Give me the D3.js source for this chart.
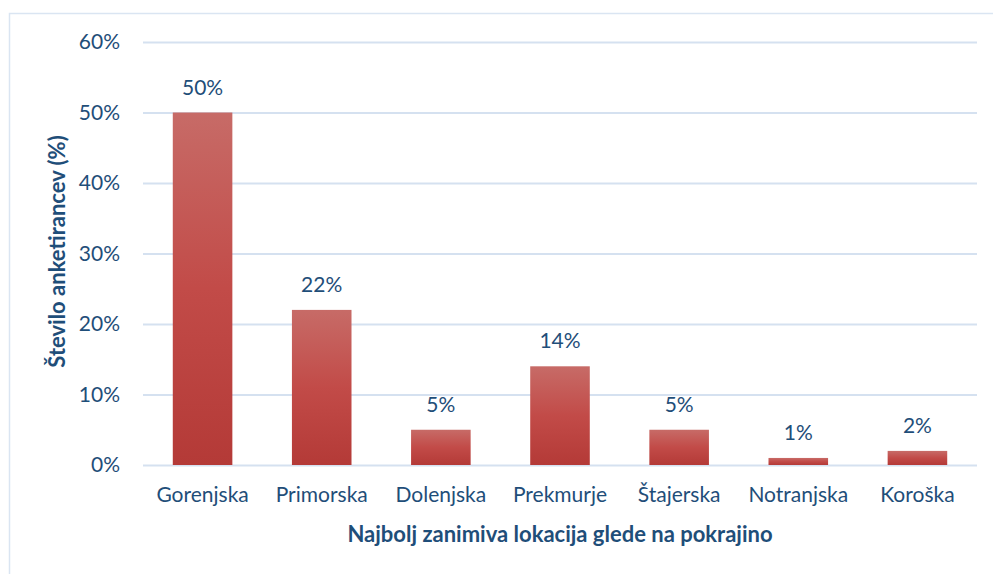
<!DOCTYPE html>
<html>
<head>
<meta charset="utf-8">
<script src="https://cdn.jsdelivr.net/npm/d3@7"></script>
<style>
  body { margin: 0; background: #ffffff; }
  svg text { font-family: Lato, "Noto Sans", sans-serif; fill: #1f4e79; }
</style>
</head>
<body>
<div id="chart"></div>
<script>
// chart data
var regions = ["Gorenjska", "Primorska", "Dolenjska", "Prekmurje", "Štajerska", "Notranjska", "Koroška"];
var shares = [50, 22, 5, 14, 5, 1, 2];
var yTicks = [0, 10, 20, 30, 40, 50, 60];

var svgWidth = 993;
var svgHeight = 574;
var margin = { top: 42, right: 16, bottom: 109, left: 143 };
var width = svgWidth - margin.left - margin.right;
var height = svgHeight - margin.top - margin.bottom;

var svg = d3.select("#chart")
    .append("svg")
    .attr("width", svgWidth)
    .attr("height", svgHeight);

// gradient for the bars
var grad = svg.append("defs").append("linearGradient")
    .attr("id", "barGrad")
    .attr("x1", 0).attr("y1", 0).attr("x2", 0).attr("y2", 1);
grad.append("stop").attr("offset", "0%").attr("stop-color", "#c76b67");
grad.append("stop").attr("offset", "50%").attr("stop-color", "#c24b48");
grad.append("stop").attr("offset", "100%").attr("stop-color", "#b43a37");

// outer frame
svg.append("rect")
    .attr("x", 9.5).attr("y", 13.5)
    .attr("width", svgWidth).attr("height", svgHeight)
    .attr("fill", "none")
    .attr("stroke", "#dae5f2")
    .attr("stroke-width", 1.5);

var chartGroup = svg.append("g")
    .attr("transform", `translate(${margin.left}, ${margin.top})`);

var xScale = d3.scaleBand()
    .domain(regions)
    .range([0, width])
    .paddingInner(0.5)
    .paddingOuter(0.25);

var yScale = d3.scaleLinear()
    .domain([0, 60])
    .range([height, 0]);

// gridlines + y labels
var leftAxis = d3.axisLeft(yScale)
    .tickValues(yTicks)
    .tickSize(-width)
    .tickPadding(23)
    .tickFormat(d => d + "%");

var yAxis = chartGroup.append("g").call(leftAxis);
yAxis.select(".domain").remove();
yAxis.selectAll("line").attr("stroke", "#d5e1f0").attr("stroke-width", 2);
yAxis.selectAll("text").attr("font-size", 21).attr("fill", "#1f4e79");

// bars
chartGroup.selectAll("rect.bar")
    .data(shares)
    .enter()
    .append("rect")
    .attr("class", "bar")
    .attr("x", (d, i) => xScale(regions[i]))
    .attr("y", d => yScale(d))
    .attr("width", xScale.bandwidth())
    .attr("height", d => height - yScale(d))
    .attr("fill", "url(#barGrad)");

// data labels
chartGroup.selectAll("text.val")
    .data(shares)
    .enter()
    .append("text")
    .attr("class", "val")
    .attr("x", (d, i) => xScale(regions[i]) + xScale.bandwidth() / 2)
    .attr("y", d => yScale(d) - 18)
    .attr("text-anchor", "middle")
    .attr("font-size", 21)
    .text(d => d + "%");

// x axis labels
var bottomAxis = d3.axisBottom(xScale).tickSize(0).tickPadding(22);
var xAxis = chartGroup.append("g")
    .attr("transform", `translate(0, ${height})`)
    .call(bottomAxis);
xAxis.select(".domain").remove();
xAxis.selectAll("text").attr("font-size", 21).attr("fill", "#1f4e79");

// axis titles
chartGroup.append("text")
    .attr("x", width / 2)
    .attr("y", height + 77)
    .attr("text-anchor", "middle")
    .attr("font-size", 22)
    .attr("font-weight", "bold")
    .text("Najbolj zanimiva lokacija glede na pokrajino");

chartGroup.append("text")
    .attr("transform", "rotate(-90)")
    .attr("x", -height / 2 + 2)
    .attr("y", -78)
    .attr("text-anchor", "middle")
    .attr("font-size", 22)
    .attr("font-weight", "bold")
    .text("Število anketirancev (%)");
</script>
</body>
</html>
